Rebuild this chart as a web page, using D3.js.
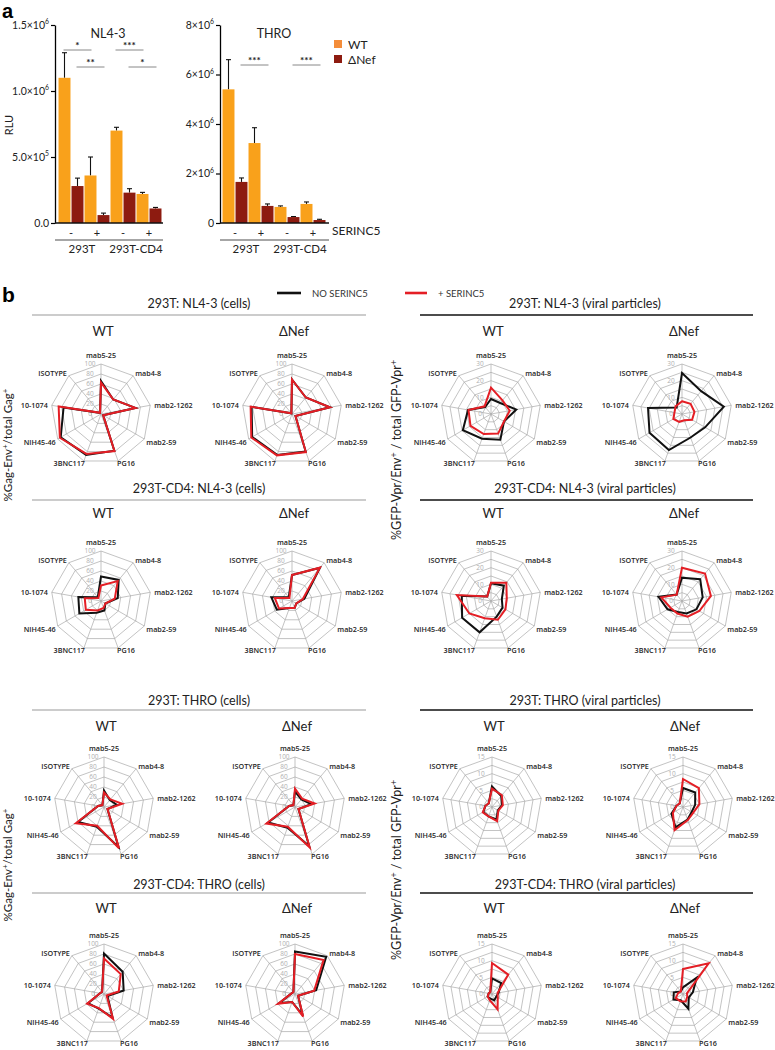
<!DOCTYPE html>
<html><head><meta charset="utf-8">
<script src="https://cdn.jsdelivr.net/npm/d3@7"></script>
<style>body{margin:0;background:#fff}svg{display:block}</style>
</head><body><svg id="c" width="775" height="1050"></svg>
<script>
// ================= DATA =================
// Panel a: bar charts (RLU)
const conditions = ["-", "+", "-", "+"];
const cellLines = ["293T", "293T-CD4"];
const barSeries = ["WT", "ΔNef"];
const nl43WT     = [1.10e6, 0.36e6, 0.70e6, 0.22e6];
const nl43WTerr  = [0.19e6, 0.14e6, 0.025e6, 0.012e6];
const nl43dNef    = [0.28e6, 0.06e6, 0.23e6, 0.11e6];
const nl43dNefErr = [0.06e6, 0.015e6, 0.03e6, 0.008e6];
const throWT     = [5.40e6, 3.23e6, 0.65e6, 0.77e6];
const throWTerr  = [1.20e6, 0.62e6, 0.04e6, 0.08e6];
const throdNef    = [1.66e6, 0.69e6, 0.24e6, 0.12e6];
const throdNefErr = [0.16e6, 0.08e6, 0.02e6, 0.03e6];
const nl43Ticks = [0, 5e5, 1e6, 1.5e6];
const nl43TickLabels = [["0.0", ""], ["5.0×10", "5"], ["1.0×10", "6"], ["1.5×10", "6"]];
const throTicks = [0, 2e6, 4e6, 6e6, 8e6];
const throTickLabels = [["0", ""], ["2×10", "6"], ["4×10", "6"], ["6×10", "6"], ["8×10", "6"]];
// significance: [series, fromCondition, toCondition, label]
const nl43Sig = [["WT", 0, 1, "*"], ["ΔNef", 0, 1, "**"], ["WT", 2, 3, "***"], ["ΔNef", 2, 3, "*"]];
const throSig = [["ΔNef", 0, 1, "***"], ["ΔNef", 2, 3, "***"]];

// Panel b: radar charts
const radarAxes = ["mab5-25", "mab4-8", "mab2-1262", "mab2-59", "PG16", "3BNC117", "NIH45-46", "10-1074", "ISOTYPE"];
const radarSeries = ["NO SERINC5", "+ SERINC5"];
const cellsTicks = [0, 20, 40, 60, 80, 100];
const nl43ViralTicks = [0, 10, 20, 30];
const throViralTicks = [0, 5, 10, 15];

const cells293T_NL43_WT_no   = [66, 38, 70, 5, 78, 87, 93, 76, 3];
const cells293T_NL43_WT_s5   = [63, 38, 70, 5, 79, 85, 95, 86, 3];
const cells293T_NL43_dNef_no = [69, 43, 77, 8, 80, 87, 92, 82, 2];
const cells293T_NL43_dNef_s5 = [69, 43, 77, 8, 81, 88, 94, 84, 2];
const viral293T_NL43_WT_no   = [9, 8.6, 15.4, 9, 16.4, 15.8, 19.5, 14, 5.5];
const viral293T_NL43_WT_s5   = [15.8, 10.7, 11.4, 9, 12.5, 12.8, 14.2, 13.7, 6];
const viral293T_NL43_dNef_no = [24.6, 17.9, 25.5, 16, 15, 23, 22.5, 20.7, 5];
const viral293T_NL43_dNef_s5 = [7.6, 8, 7.6, 7, 4, 5, 6, 4.6, 6];

const cellsCD4_NL43_WT_no   = [49, 55, 34, 10, 20, 25, 50, 46, 10];
const cellsCD4_NL43_WT_s5   = [31, 52, 28, 10, 15, 20, 35, 33, 8];
const cellsCD4_NL43_dNef_no = [52, 87, 25, 10, 15, 15, 35, 42, 10];
const cellsCD4_NL43_dNef_s5 = [52, 87, 22, 10, 15, 15, 30, 35, 8];
const viralCD4_NL43_WT_no   = [10.6, 12, 6.6, 8, 10, 20, 20, 17.8, 3.5];
const viralCD4_NL43_WT_s5   = [11, 14.3, 9.6, 10, 12, 11, 15, 20.8, 3.5];
const viralCD4_NL43_dNef_no = [14, 17, 12.6, 10, 8, 7, 10, 14.3, 5];
const viralCD4_NL43_dNef_s5 = [20, 21.5, 17.6, 12, 10, 8, 8, 12.6, 5];

const cells293T_THRO_WT_no   = [33, 18, 26, 8, 85, 42, 60, 12, 5];
const cells293T_THRO_WT_s5   = [29, 20, 37, 8, 88, 40, 65, 12, 5];
const cells293T_THRO_dNef_no = [31, 20, 33, 8, 83, 44, 62, 12, 5];
const cells293T_THRO_dNef_s5 = [37, 22, 40, 8, 86, 42, 66, 12, 5];
const viral293T_THRO_WT_no   = [6.2, 4.3, 3, 2, 4, 3, 3, 2, 1.5];
const viral293T_THRO_WT_s5   = [5.5, 4.6, 3.3, 2.2, 4.5, 3, 3.2, 2, 1.5];
const viral293T_THRO_dNef_no = [5.7, 5.7, 3.7, 3, 4, 6.5, 4, 2, 1.5];
const viral293T_THRO_dNef_s5 = [8.4, 7.4, 5, 3.5, 4.2, 7.4, 3.5, 2, 1.5];

const cellsCD4_THRO_WT_no   = [81, 58, 40, 8, 50, 31, 37, 8, 6];
const cellsCD4_THRO_WT_s5   = [71, 52, 30, 6, 53, 30, 39, 8, 6];
const cellsCD4_THRO_dNef_no = [85, 97, 43, 7, 45, 17, 36, 7, 5];
const cellsCD4_THRO_dNef_s5 = [80, 89, 39, 7, 48, 17, 39, 7, 5];
const viralCD4_THRO_WT_no   = [4.7, 4.3, 2, 1.5, 2, 1.5, 1.5, 1, 0.8];
const viralCD4_THRO_WT_s5   = [9.3, 7.6, 1.7, 2, 4.9, 2, 1.5, 1, 0.8];
const viralCD4_THRO_dNef_no = [2, 6.4, 3, 2, 4.7, 2, 3.3, 2.8, 1];
const viralCD4_THRO_dNef_s5 = [7.5, 12, 1.2, 1.5, 2.4, 2.3, 2.5, 1.5, 1];

const sectionTitles = [
  ["293T: NL4-3 (cells)", "293T: NL4-3 (viral particles)"],
  ["293T-CD4: NL4-3 (cells)", "293T-CD4: NL4-3 (viral particles)"],
  ["293T: THRO (cells)", "293T: THRO (viral particles)"],
  ["293T-CD4: THRO (cells)", "293T-CD4: THRO (viral particles)"]
];
const subTitles = ["WT", "ΔNef"];

// ================= DRAWING =================
const FONT = "Lato, 'Open Sans', 'DejaVu Sans', sans-serif";
const LABFONT = "'Open Sans', 'Noto Sans', sans-serif";
const ORANGE = "#f9a11b", DARKRED = "#8d1b10", BLACK = "#111", RED = "#e41e25";
const svg = d3.select("#c").style("font-family", FONT);

function sup(sel, base, exp, fs) {
  sel.append("tspan").text(base);
  if (exp) sel.append("tspan").attr("font-size", fs * 0.65).attr("dy", -fs * 0.45).text(exp);
}

// ---- panel letters
svg.append("text").attr("x", 2).attr("y", 18).attr("font-size", 20).attr("font-weight", "bold")
  .attr("font-family", "'Liberation Sans', Arial, sans-serif").text("a");
svg.append("text").attr("x", 2).attr("y", 302).attr("font-size", 21).attr("font-weight", "bold")
  .attr("font-family", "'Liberation Sans', Arial, sans-serif").text("b");

// ---- bar charts
function barChart(o) {
  const g = svg.append("g");
  const y = d3.scaleLinear().domain([0, o.yMax]).range([223, 25]);
  const xb = d3.scaleBand().domain(d3.range(conditions.length)).range(o.bandRange);
  const xs = d3.scaleBand().domain(barSeries).range([0, xb.bandwidth()]).paddingInner(0.08).paddingOuter(0.04);
  const rows = [];
  conditions.forEach((c, i) => {
    rows.push({ i, s: "WT", v: o.wt[i], e: o.wtErr[i] });
    rows.push({ i, s: "ΔNef", v: o.dn[i], e: o.dnErr[i] });
  });
  const color = d3.scaleOrdinal().domain(barSeries).range([ORANGE, DARKRED]);
  const cx = d => xb(d.i) + xs(d.s) + xs.bandwidth() / 2;
  g.selectAll("line.err").data(rows).join("line")
    .attr("x1", cx).attr("x2", cx).attr("y1", d => y(d.v)).attr("y2", d => y(d.v + d.e))
    .attr("stroke", "#111").attr("stroke-width", 1.1);
  g.selectAll("line.cap").data(rows).join("line")
    .attr("x1", d => cx(d) - 2.5).attr("x2", d => cx(d) + 2.5).attr("y1", d => y(d.v + d.e)).attr("y2", d => y(d.v + d.e))
    .attr("stroke", "#111").attr("stroke-width", 1.1);
  g.selectAll("rect").data(rows).join("rect")
    .attr("x", d => xb(d.i) + xs(d.s)).attr("width", xs.bandwidth())
    .attr("y", d => y(d.v)).attr("height", d => y(0) - y(d.v)).attr("fill", d => color(d.s));
  const ya = g.append("g").attr("transform", `translate(${o.axisX},0)`)
    .call(d3.axisLeft(y).tickValues(o.ticks).tickSize(4).tickSizeOuter(0).tickFormat(""));
  ya.select(".domain").attr("stroke-width", 1.3);
  ya.selectAll(".tick line").attr("stroke-width", 1.2);
  o.ticks.forEach((t, k) => {
    const tx = g.append("text").attr("x", o.axisX - 6).attr("y", y(t) + 3.8).attr("text-anchor", "end")
      .attr("font-size", 10.5).attr("fill", "#222");
    sup(tx, o.tickLabels[k][0], o.tickLabels[k][1], 10.5);
  });
  g.append("line").attr("x1", o.axisX).attr("x2", o.axisEnd).attr("y1", y(0)).attr("y2", y(0))
    .attr("stroke", "#111").attr("stroke-width", 1.3);
  g.selectAll("text.cond").data(conditions).join("text")
    .attr("x", (d, i) => xb(i) + xb.bandwidth() / 2).attr("y", 237).attr("text-anchor", "middle")
    .attr("font-size", 11).attr("fill", "#222").text(d => d);
  cellLines.forEach((c, k) => {
    const a = xb(2 * k), b = xb(2 * k + 1) + xb.bandwidth();
    g.append("line").attr("x1", k === 0 ? o.axisX : a - 1).attr("x2", k === 0 ? b - 1 : o.axisEnd).attr("y1", 240).attr("y2", 240)
      .attr("stroke", "#888").attr("stroke-width", 1.6);
    g.append("text").attr("x", (a + b) / 2 + (k === 0 ? -2 : 0)).attr("y", 253).attr("text-anchor", "middle")
      .attr("font-size", 11.5).attr("fill", "#222").text(c);
  });
  g.append("text").attr("x", o.titleX).attr("y", 38).attr("text-anchor", "middle").attr("font-size", 12.5).attr("fill", "#222").text(o.title);
  o.sig.forEach(s => {
    const x1 = xb(s[1]) + xs(s[0]) + xs.bandwidth() / 2;
    const x2 = xb(s[2]) + xs(s[0]) + xs.bandwidth() / 2;
    const yy = o.sigY[s[0]];
    g.append("line").attr("x1", x1 - 1).attr("x2", x2 + 1).attr("y1", yy).attr("y2", yy).attr("stroke", "#888").attr("stroke-width", 1);
    g.append("text").attr("x", (x1 + x2) / 2).attr("y", yy - 1.5).attr("text-anchor", "middle")
      .attr("font-size", 10).attr("font-weight", "bold").attr("fill", "#222").text(s[3]);
  });
}

barChart({ yMax: 1.5e6, bandRange: [58, 162], axisX: 55, axisEnd: 163, ticks: nl43Ticks, tickLabels: nl43TickLabels,
  wt: nl43WT, wtErr: nl43WTerr, dn: nl43dNef, dnErr: nl43dNefErr, title: "NL4-3", titleX: 108,
  sig: nl43Sig, sigY: { "WT": 50, "ΔNef": 67 } });
barChart({ yMax: 8e6, bandRange: [222, 326], axisX: 220, axisEnd: 329, ticks: throTicks, tickLabels: throTickLabels,
  wt: throWT, wtErr: throWTerr, dn: throdNef, dnErr: throdNefErr, title: "THRO", titleX: 274,
  sig: throSig, sigY: { "WT": 48, "ΔNef": 65 } });

svg.append("text").attr("transform", "translate(13,125) rotate(-90)").attr("text-anchor", "middle")
  .attr("font-size", 11).attr("fill", "#222").text("RLU");
svg.append("text").attr("x", 332).attr("y", 235).attr("font-size", 12).attr("fill", "#222").text("SERINC5");
[[ "WT", "#f48d3a", 40 ], [ "ΔNef", DARKRED, 55 ]].forEach(([t, c, yy]) => {
  svg.append("rect").attr("x", 334).attr("y", yy).attr("width", 8).attr("height", 8).attr("fill", c);
  svg.append("text").attr("x", 348).attr("y", yy + 8.5).attr("font-size", 12).attr("fill", "#222").text(t);
});

// ---- panel b legend
svg.append("line").attr("x1", 277).attr("x2", 301).attr("y1", 293).attr("y2", 293).attr("stroke", BLACK).attr("stroke-width", 2.6);
svg.append("text").attr("x", 312).attr("y", 296.5).attr("font-size", 9.5).attr("fill", "#333").text(radarSeries[0]);
svg.append("line").attr("x1", 405).attr("x2", 427).attr("y1", 293).attr("y2", 293).attr("stroke", RED).attr("stroke-width", 2.6);
svg.append("text").attr("x", 438).attr("y", 296.5).attr("font-size", 9.5).attr("fill", "#333").text(radarSeries[1]);

// ---- radar
const R = 50;
const N = radarAxes.length;
function radar(cx, cy, ticks, ringStep, noData, s5Data) {
  const g = svg.append("g").attr("transform", `translate(${cx},${cy})`);
  const maxV = ticks[ticks.length - 1];
  const r = d3.scaleLinear().domain([0, maxV]).range([0, R]);
  const ang = i => i * 2 * Math.PI / N;
  const ring = d3.lineRadial().angle((d, i) => ang(i)).radius(d => r(d)).curve(d3.curveLinearClosed);
  const ringVals = d3.range(ringStep, maxV + 1e-9, ringStep);
  g.selectAll("path.ring").data(ringVals).join("path")
    .attr("d", v => ring(radarAxes.map(() => v))).attr("fill", "none").attr("stroke", "#a9a9a9").attr("stroke-width", 0.7);
  const lab = g.append("g").attr("opacity", 0.99);
  radarAxes.forEach((a, i) => {
    const x = r(maxV) * Math.sin(ang(i)), y = -r(maxV) * Math.cos(ang(i));
    g.append("line").attr("x1", 0).attr("y1", 0).attr("x2", x).attr("y2", y).attr("stroke", "#a9a9a9").attr("stroke-width", 0.7);
    let tx = x, ty = y, anchor = "middle";
    if (i === 0) { ty = y - 6; }
    else if (i === 1) { tx = x + 2; ty = y; anchor = "start"; }
    else if (i === 2) { tx = x + 4; ty = y + 2.5; anchor = "start"; }
    else if (i === 3) { tx = x + 2; ty = y + 6; anchor = "start"; }
    else if (i === 4) { tx = x - 1; ty = y + 5.5; anchor = "start"; }
    else if (i === 5) { tx = x + 1; ty = y + 5.5; anchor = "end"; }
    else if (i === 6) { tx = x - 2; ty = y + 6; anchor = "end"; }
    else if (i === 7) { tx = x - 4; ty = y + 2.5; anchor = "end"; }
    else if (i === 8) { tx = x - 2; ty = y; anchor = "end"; }
    lab.append("text").attr("x", tx).attr("y", ty).attr("text-anchor", anchor)
      .attr("font-family", LABFONT).attr("font-size", 7.2).attr("font-weight", 600).attr("fill", "#222").text(a);
  });
  ticks.forEach(t => {
    lab.append("text").attr("x", -11).attr("y", -r(t) + 2.3).attr("text-anchor", "middle")
      .attr("font-family", LABFONT).attr("font-size", 6.5).attr("fill", "#b0b0b0").text(t);
  });
  const series = d3.lineRadial().angle((d, i) => ang(i)).radius(d => r(d)).curve(d3.curveLinearClosed);
  g.append("path").attr("d", series(noData)).attr("fill", "none").attr("stroke", BLACK).attr("stroke-width", 2).attr("stroke-linejoin", "miter");
  g.append("path").attr("d", series(s5Data)).attr("fill", "none").attr("stroke", RED).attr("stroke-width", 2).attr("stroke-linejoin", "miter");
}

const rowY = [414, 601, 807, 994];
const titleY = [303, 488, 700, 884];
const sepY = [315, 500, 710, 893];
const subY = [331, 513, 726, 908];
const leftX = [[101, 292], [101, 292], [104, 295], [104, 295]];
const rightX = [[491, 682], [491, 682], [492, 683], [492, 683]];
const radarSets = [
  [[cells293T_NL43_WT_no, cells293T_NL43_WT_s5], [cells293T_NL43_dNef_no, cells293T_NL43_dNef_s5],
   [viral293T_NL43_WT_no, viral293T_NL43_WT_s5], [viral293T_NL43_dNef_no, viral293T_NL43_dNef_s5]],
  [[cellsCD4_NL43_WT_no, cellsCD4_NL43_WT_s5], [cellsCD4_NL43_dNef_no, cellsCD4_NL43_dNef_s5],
   [viralCD4_NL43_WT_no, viralCD4_NL43_WT_s5], [viralCD4_NL43_dNef_no, viralCD4_NL43_dNef_s5]],
  [[cells293T_THRO_WT_no, cells293T_THRO_WT_s5], [cells293T_THRO_dNef_no, cells293T_THRO_dNef_s5],
   [viral293T_THRO_WT_no, viral293T_THRO_WT_s5], [viral293T_THRO_dNef_no, viral293T_THRO_dNef_s5]],
  [[cellsCD4_THRO_WT_no, cellsCD4_THRO_WT_s5], [cellsCD4_THRO_dNef_no, cellsCD4_THRO_dNef_s5],
   [viralCD4_THRO_WT_no, viralCD4_THRO_WT_s5], [viralCD4_THRO_dNef_no, viralCD4_THRO_dNef_s5]]
];

rowY.forEach((cy, row) => {
  const viralTicks = row < 2 ? nl43ViralTicks : throViralTicks;
  const viralStep = row < 2 ? 5 : 2.5;
  svg.append("text").attr("x", 199).attr("y", titleY[row] + 4.5).attr("text-anchor", "middle")
    .attr("font-size", 12.5).attr("fill", "#222").text(sectionTitles[row][0]);
  svg.append("line").attr("x1", 32).attr("x2", 366).attr("y1", sepY[row]).attr("y2", sepY[row]).attr("stroke", "#999").attr("stroke-width", 1.2);
  svg.append("text").attr("x", 585).attr("y", titleY[row] + 4.5).attr("text-anchor", "middle")
    .attr("font-size", 12.5).attr("fill", "#222").text(sectionTitles[row][1]);
  svg.append("line").attr("x1", 420).attr("x2", 753).attr("y1", sepY[row]).attr("y2", sepY[row]).attr("stroke", "#111").attr("stroke-width", 1.3);
  const xs = [leftX[row][0], leftX[row][1], rightX[row][0], rightX[row][1]];
  xs.forEach((x, k) => {
    svg.append("text").attr("x", x + 2).attr("y", subY[row] + 4.5).attr("text-anchor", "middle")
      .attr("font-size", 13).attr("fill", "#222").text(subTitles[k % 2]);
    const [no, s5] = radarSets[row][k];
    if (k < 2) radar(x, cy, cellsTicks, 20, no, s5);
    else radar(x, cy, viralTicks, viralStep, no, s5);
  });
});

function yTitle(x, y, fs, parts) {
  const t = svg.append("text").attr("transform", `translate(${x},${y}) rotate(-90)`).attr("text-anchor", "middle")
    .attr("font-size", fs).attr("fill", "#222");
  parts.forEach(p => {
    const ts = t.append("tspan").text(p[0]);
    if (p[1] === "sup") ts.attr("font-size", fs * 0.7).attr("dy", -4);
    if (p[1] === "down") ts.attr("dy", 4);
  });
}
yTitle(12, 445, 11.5, [["%Gag-Env"], ["+", "sup"], ["/total Gag", "down"], ["+", "sup"]]);
yTitle(12, 865, 11.5, [["%Gag-Env"], ["+", "sup"], ["/total Gag", "down"], ["+", "sup"]]);
yTitle(401, 450, 12.5, [["%GFP-Vpr/Env"], ["+", "sup"], [" / total GFP-Vpr", "down"], ["+", "sup"]]);
yTitle(401, 870, 12.5, [["%GFP-Vpr/Env"], ["+", "sup"], [" / total GFP-Vpr", "down"], ["+", "sup"]]);
</script></body></html>
